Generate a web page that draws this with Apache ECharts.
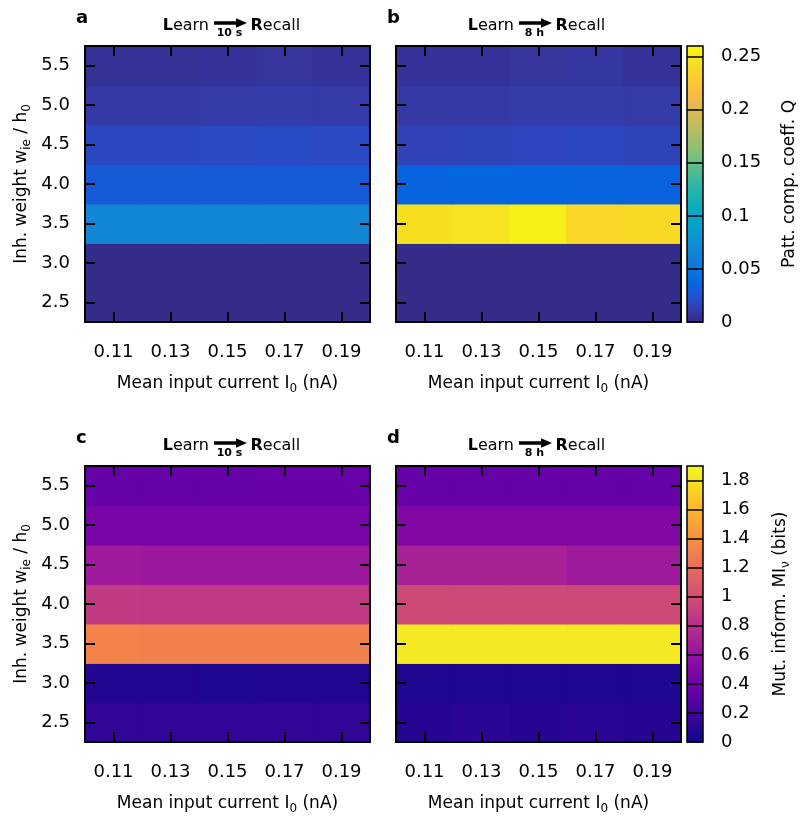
<!DOCTYPE html>
<html>
<head>
<meta charset="utf-8">
<script src="https://cdn.jsdelivr.net/npm/echarts@6/dist/echarts.min.js"></script>
<style>
  html, body { margin: 0; padding: 0; background: #fff; }
  #chart { width: 802px; height: 818px; }
</style>
</head>
<body>
<div id="chart"></div>
<script>
// Mean input current I0 (nA), one column each
const currents = ['0.11', '0.13', '0.15', '0.17', '0.19'];
// Inhibitory weight w_ie / h0, rows listed bottom to top
const weights = ['2.5', '3.0', '3.5', '4.0', '4.5', '5.0', '5.5'];

// Pattern completion coefficient Q, recall 10 s after learning (rows follow `weights`)
const qRecall10s = [
  [0.001, 0.001, 0.001, 0.001, 0.001],
  [0.001, 0.001, 0.001, 0.001, 0.001],
  [0.066, 0.067, 0.067, 0.067, 0.066],
  [0.029, 0.029, 0.029, 0.029, 0.029],
  [0.018, 0.018, 0.019, 0.020, 0.019],
  [0.010, 0.010, 0.011, 0.012, 0.011],
  [0.005, 0.005, 0.006, 0.007, 0.006]
];
// Pattern completion coefficient Q, recall 8 h after learning
const qRecall8h = [
  [0.001, 0.001, 0.001, 0.001, 0.001],
  [0.001, 0.001, 0.001, 0.001, 0.001],
  [0.244, 0.246, 0.254, 0.238, 0.240],
  [0.035, 0.036, 0.036, 0.035, 0.034],
  [0.015, 0.016, 0.017, 0.018, 0.016],
  [0.010, 0.010, 0.011, 0.012, 0.011],
  [0.006, 0.006, 0.007, 0.008, 0.006]
];
// Mutual information MI_nu (bits), recall 10 s after learning
const miRecall10s = [
  [0.13, 0.13, 0.14, 0.14, 0.13],
  [0.08, 0.08, 0.07, 0.08, 0.08],
  [1.33, 1.31, 1.31, 1.31, 1.31],
  [0.87, 0.86, 0.86, 0.86, 0.86],
  [0.66, 0.64, 0.64, 0.64, 0.64],
  [0.46, 0.46, 0.46, 0.46, 0.46],
  [0.36, 0.36, 0.36, 0.37, 0.37]
];
// Mutual information MI_nu (bits), recall 8 h after learning
const miRecall8h = [
  [0.09, 0.11, 0.09, 0.11, 0.09],
  [0.07, 0.07, 0.07, 0.07, 0.07],
  [1.83, 1.83, 1.83, 1.83, 1.83],
  [0.97, 0.96, 0.96, 0.96, 0.96],
  [0.71, 0.71, 0.71, 0.66, 0.66],
  [0.50, 0.50, 0.50, 0.50, 0.50],
  [0.36, 0.36, 0.36, 0.36, 0.36]
];

// Colour scale ranges and tick spacing
const qRange = [0, 0.26];
const qTickStep = 0.05;
const miRange = [0, 1.9];
const miTickStep = 0.2;

const FONT = 'DejaVu Sans';

const parula = ['#352a87', '#353dad', '#2053d4', '#0268e1', '#0d75dc', '#1481d6', '#108ed2',
  '#079ccf', '#06a7c6', '#0faeb9', '#25b5a9', '#42bb98', '#65be86', '#87bf77', '#a5be6b',
  '#c0bc60', '#d9ba56', '#f1b94a', '#ffc337', '#fad32a', '#f5e41d', '#f9fb0e'];
const plasma = ['#0d0887', '#41049d', '#6a00a8', '#8f0da4', '#b12a90', '#cc4778',
  '#e16462', '#f2844b', '#fca636', '#fcce25', '#f0f921'];

// heatmap cells [column, row, value]; a hairline border in the cell's own
// colour closes the anti-aliasing seams between neighbouring cells
function toCells(rows, range, colors) {
  const out = [];
  rows.forEach((row, j) => row.forEach((v, i) => {
    const t = (v - range[0]) / (range[1] - range[0]);
    out.push({
      value: [i, j, v],
      itemStyle: { borderColor: echarts.color.lerp(Math.min(1, Math.max(0, t)), colors), borderWidth: 1 }
    });
  }));
  return out;
}

const subRich = {
  sub: { fontSize: 12, fontFamily: FONT, color: '#000', verticalAlign: 'bottom', lineHeight: 10 }
};
const nameStyle = { fontSize: 17, fontFamily: FONT, color: '#000', lineHeight: 22, rich: subRich };

const PW = 285, PH = 276;
const panels = [
  { key: 'a', left: 85, top: 46, rows: qRecall10s, map: 0, yLabels: true, delay: '10 s', arrowX: 214 },
  { key: 'b', left: 396, top: 46, rows: qRecall8h, map: 0, yLabels: false, delay: '8 h', arrowX: 519 },
  { key: 'c', left: 85, top: 466, rows: miRecall10s, map: 1, yLabels: true, delay: '10 s', arrowX: 214 },
  { key: 'd', left: 396, top: 466, rows: miRecall8h, map: 1, yLabels: false, delay: '8 h', arrowX: 519 }
];
const bars = [
  { left: 687, top: 46, range: qRange, step: qTickStep, colors: parula, nameGap: 76,
    name: 'Patt. comp. coeff. Q' },
  { left: 687, top: 466, range: miRange, step: miTickStep, colors: plasma, nameGap: 67,
    name: 'Mut. inform. MI{sub|ν} (bits)' }
];

const grid = [], xAxis = [], yAxis = [], series = [], graphic = [];
const tick = { show: true, inside: true, length: 10, alignWithLabel: true, lineStyle: { color: '#000', width: 2 } };

panels.forEach((p, g) => {
  const bar = bars[p.map];
  grid.push({ left: p.left, top: p.top, width: PW, height: PH, show: true, z: 5,
    backgroundColor: 'transparent', borderColor: '#000', borderWidth: 2 });
  const xBottom = xAxis.length;
  xAxis.push({
    type: 'category', gridIndex: g, data: currents, position: 'bottom', z: 6,
    axisLine: { show: false }, axisTick: tick, splitLine: { show: false },
    axisLabel: { fontSize: 18, fontFamily: FONT, color: '#000', margin: 21 },
    name: 'Mean input current I{sub|0} (nA)', nameLocation: 'middle', nameGap: 51,
    nameTextStyle: nameStyle
  });
  xAxis.push({
    type: 'category', gridIndex: g, data: currents, position: 'top', z: 6,
    axisLine: { show: false }, axisTick: tick, axisLabel: { show: false }, splitLine: { show: false }
  });
  const yLeft = yAxis.length;
  const yMain = {
    type: 'category', gridIndex: g, data: weights, position: 'left', z: 6,
    axisLine: { show: false }, axisTick: tick, splitLine: { show: false },
    axisLabel: { show: p.yLabels, fontSize: 18, fontFamily: FONT, color: '#000', margin: 15 }
  };
  if (p.yLabels) {
    yMain.name = 'Inh. weight w{sub|ie} / h{sub|0}';
    yMain.nameLocation = 'middle';
    yMain.nameGap = 52;
    yMain.nameRotate = 90;
    yMain.nameTextStyle = nameStyle;
  }
  yAxis.push(yMain);
  yAxis.push({
    type: 'category', gridIndex: g, data: weights, position: 'right', z: 6,
    axisLine: { show: false }, axisTick: tick, axisLabel: { show: false }, splitLine: { show: false }
  });
  series.push({
    type: 'heatmap', xAxisIndex: xBottom, yAxisIndex: yLeft,
    data: toCells(p.rows, bar.range, bar.colors),
    emphasis: { disabled: true }, progressive: 0
  });

  // panel letter
  graphic.push({
    type: 'text', left: p.left - 9, top: p.top - 37,
    style: { text: p.key, fontSize: 18, fontWeight: 'bold', fontFamily: FONT, fill: '#000' }
  });
  // "Learn --(delay)--> Recall" heading
  const ay = p.top - 23;
  const ax = p.arrowX;
  graphic.push({
    type: 'text', x: ax - 5, y: p.top - 20,
    style: { text: '{b|L}earn', align: 'right', verticalAlign: 'middle', fontSize: 16,
      fontFamily: FONT, fill: '#000', rich: { b: { fontSize: 16, fontFamily: FONT, fontWeight: 'bold' } } }
  });
  graphic.push({
    type: 'polygon',
    shape: { points: [[ax, ay - 1.8], [ax + 22, ay - 1.8], [ax + 22, ay - 4.7], [ax + 33, ay],
      [ax + 22, ay + 4.7], [ax + 22, ay + 1.8], [ax, ay + 1.8]] },
    style: { fill: '#000' }
  });
  graphic.push({
    type: 'text', x: ax + 15.5, y: p.top - 12.5,
    style: { text: p.delay, align: 'center', verticalAlign: 'middle', fontSize: 11,
      fontWeight: 'bold', fontFamily: FONT, fill: '#000' }
  });
  graphic.push({
    type: 'text', x: ax + 36.5, y: p.top - 20,
    style: { text: '{b|R}ecall', align: 'left', verticalAlign: 'middle', fontSize: 16,
      fontFamily: FONT, fill: '#000', rich: { b: { fontSize: 16, fontFamily: FONT, fontWeight: 'bold' } } }
  });
});

// colour bars: gradient strip, with frame and ticks from a value axis on top
const visualMap = [];
bars.forEach((b, k) => {
  const g = grid.length;
  grid.push({ left: b.left, top: b.top, width: 16, height: PH, show: true, z: 5,
    backgroundColor: 'transparent', borderColor: '#000', borderWidth: 1.5 });
  xAxis.push({ type: 'value', gridIndex: g, show: false, min: 0, max: 1 });
  yAxis.push({
    type: 'value', gridIndex: g, position: 'right', min: b.range[0], max: b.range[1],
    interval: b.step, z: 6,
    axisLine: { show: false, onZero: false }, splitLine: { show: false },
    axisTick: { show: true, inside: true, length: 16, lineStyle: { color: '#000', width: 1.5 } },
    axisLabel: { fontSize: 18, fontFamily: FONT, color: '#000', margin: 18, showMaxLabel: false },
    name: b.name, nameLocation: 'middle', nameRotate: 90, nameGap: b.nameGap, nameTextStyle: nameStyle
  });
  visualMap.push({
    type: 'continuous', show: false, seriesIndex: k === 0 ? [0, 1] : [2, 3],
    min: b.range[0], max: b.range[1], inRange: { color: b.colors }
  });
  graphic.push({
    type: 'rect', z: 1, silent: true,
    shape: { x: b.left, y: b.top, width: 16, height: PH },
    style: {
      fill: {
        type: 'linear', x: 0, y: 1, x2: 0, y2: 0,
        colorStops: b.colors.map((c, i) => ({ offset: i / (b.colors.length - 1), color: c }))
      }
    }
  });
});

const chart = echarts.init(document.getElementById('chart'), null, { renderer: 'canvas' });
chart.setOption({
  animation: false,
  backgroundColor: '#fff',
  textStyle: { fontFamily: FONT },
  grid, xAxis, yAxis, series, visualMap, graphic
});
</script>
</body>
</html>
